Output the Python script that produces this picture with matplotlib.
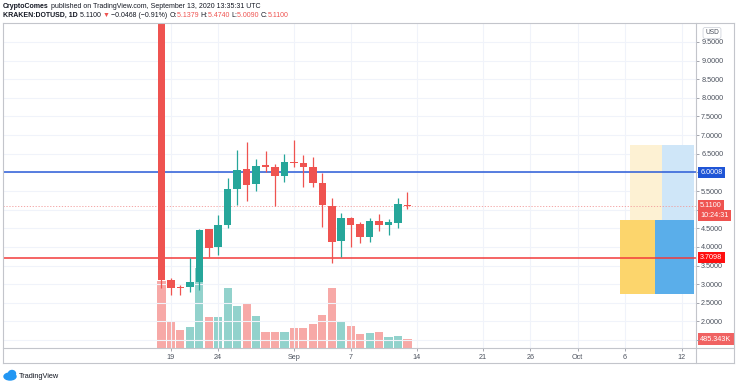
import datetime as dt
import numpy as np
import matplotlib
matplotlib.use('Agg')
import matplotlib.pyplot as plt
import matplotlib.dates as mdates
from matplotlib.lines import Line2D
from matplotlib.patches import Rectangle, Ellipse
from matplotlib.ticker import FuncFormatter

# daily candles, Kraken DOT/USD, Aug 18 - Sep 13 2020
dates = [dt.date(2020, 8, 18) + dt.timedelta(days=i) for i in range(27)]
opens = [11.00, 3.11, 2.93, 2.92, 3.07, 4.47, 4.01, 4.59, 5.55, 6.08, 5.69, 6.20, 6.15, 5.90,
         6.29, 6.26, 6.15, 5.71, 5.10, 4.16, 4.77, 4.61, 4.26, 4.70, 4.59, 4.65, 5.1379]
highs = [11.00, 3.17, 2.98, 3.70, 4.48, 4.48, 4.86, 5.84, 6.60, 6.81, 6.35, 6.57, 6.22, 6.48,
         6.87, 6.47, 6.40, 5.99, 5.30, 4.90, 4.81, 4.67, 4.78, 4.88, 4.74, 5.30, 5.4740]
lows = [2.90, 2.71, 2.71, 2.80, 2.84, 3.74, 3.78, 4.50, 5.12, 5.23, 5.51, 6.02, 5.10, 5.75,
        6.15, 5.60, 5.60, 4.53, 3.56, 3.74, 4.00, 4.10, 4.12, 4.43, 4.32, 4.50, 5.0090]
closes = [3.11, 2.91, 2.89, 3.06, 4.45, 3.96, 4.59, 5.55, 6.06, 5.66, 6.17, 6.15, 5.90, 6.29,
          6.24, 6.14, 5.72, 5.12, 4.12, 4.78, 4.59, 4.26, 4.70, 4.58, 4.66, 5.14, 5.1100]
volumes_k = [3497, 1409, 940, 1096, 4176, 1618, 1618, 3132, 2192, 2297, 1670, 835, 851, 835,
             1044, 1044, 1253, 1723, 3132, 1409, 1148, 746, 799, 835, 574, 626, 485.343]

resistance = 6.0008
support = 3.7098
last_price = 5.11
last_volume = 485.343

# position tool drawn on the right
zone_start = [dt.datetime(2020, 10, 6, 12), dt.datetime(2020, 10, 9, 23),
              dt.datetime(2020, 10, 5, 10), dt.datetime(2020, 10, 9, 5)]
zone_end = [dt.datetime(2020, 10, 9, 23), dt.datetime(2020, 10, 13, 7),
            dt.datetime(2020, 10, 9, 5), dt.datetime(2020, 10, 13, 7)]
zone_low = [4.72, 4.72, 2.73, 2.73]
zone_high = [6.73, 6.73, 4.72, 4.72]
zone_color = ['#fdf1d3', '#cfe6f8', '#fcd56c', '#5aaeea']

tick_dates = [dt.date(2020, 8, 19), dt.date(2020, 8, 24), dt.date(2020, 9, 1), dt.date(2020, 9, 7),
              dt.date(2020, 9, 14), dt.date(2020, 9, 21), dt.date(2020, 9, 26), dt.date(2020, 10, 1),
              dt.date(2020, 10, 6), dt.date(2020, 10, 12)]
tick_labels = ['19', '24', 'Sep', '7', '14', '21', '26', 'Oct', '6', '12']

UP = '#26a69a'
DOWN = '#ef5350'
TXT = '#4c525e'
plt.rcParams['font.family'] = ['Liberation Sans', 'DejaVu Sans']

W, H = 736, 384
fig = plt.figure(figsize=(W / 100, H / 100), dpi=100)
ax = fig.add_axes([3 / W, 1 - 348.3 / H, 693 / W, 325 / H])
axv = ax.twinx()

x = mdates.date2num(dates)
o = np.array(opens)
c = np.array(closes)
up = c >= o
ccol = [UP if u else DOWN for u in up]
vcol = ['#92d2cc' if u else '#f7a9a7' for u in up]

# volume
axv.bar(x, volumes_k, width=0.86, color=vcol, zorder=1)
axv.set_ylim(0, 16965)
axv.set_yticks([])
for s in axv.spines.values():
    s.set_visible(False)

ax.set_zorder(axv.get_zorder() + 1)
ax.patch.set_visible(False)

# candles
ax.vlines(x, lows, highs, colors=ccol, lw=0.9, zorder=4)
ax.bar(x, np.maximum(np.abs(c - o), 0.025), bottom=np.minimum(o, c), width=0.8,
       color=ccol, zorder=5)

for s0, s1, lo, hi, col in zip(zone_start, zone_end, zone_low, zone_high, zone_color):
    x0, x1 = mdates.date2num(s0), mdates.date2num(s1)
    ax.add_patch(Rectangle((x0, lo), x1 - x0, hi - lo, facecolor=col, edgecolor='none', zorder=1))

ax.axhline(resistance, color='#2a5bd7', lw=1.1, zorder=3)
ax.axhline(support, color='#f23b3b', lw=1.1, zorder=3)
ax.axhline(last_price, color='#f29a9a', lw=0.6, ls=(0, (1.5, 2)), zorder=3)

ax.set_ylim(1.28, 10.0)
ax.set_xlim(mdates.date2num(dt.datetime(2020, 8, 1, 6)), mdates.date2num(dt.datetime(2020, 10, 13, 12)))

ax.set_xticks(mdates.date2num(tick_dates))
ax.set_xticklabels(tick_labels)
ax.set_yticks(np.arange(1.5, 10.0, 0.5))
hidden = {1.5, 5.0, 6.0}
ax.yaxis.set_major_formatter(FuncFormatter(lambda v, p: '' if round(v, 2) in hidden else '%.4f' % v))
ax.yaxis.tick_right()
ax.grid(True, color='#f0f3fa', lw=0.8, zorder=0)
ax.set_axisbelow(True)
ax.tick_params(axis='x', length=2, width=0.6, color='#9598a1', labelsize=5.2, labelcolor=TXT, pad=1.8)
ax.tick_params(axis='y', length=2.5, width=0.6, color='#9598a1', labelsize=5.2, labelcolor=TXT, pad=1.2)
for s in ax.spines.values():
    s.set_visible(False)

# price-scale labels
def price_tag(axis, yv, text, bg, dy=0):
    axis.annotate(text, xy=(1.0, yv), xycoords=axis.get_yaxis_transform(), xytext=(3.0, dy),
                  textcoords='offset points', va='center', ha='left', fontsize=5.2, color='white',
                  bbox=dict(boxstyle='square,pad=0.3', facecolor=bg, edgecolor='none'),
                  annotation_clip=False, zorder=10)

price_tag(ax, resistance, '6.0008', '#1f55d6')
price_tag(ax, last_price, '5.1100', '#ef5350')
price_tag(ax, last_price, '10:24:31', '#ef5350', dy=-7.4)
price_tag(ax, support, '3.7098', '#ff1010')
price_tag(axv, last_volume, '485.343K', '#f06262')

fig.text(712 / W, 1 - 33 / H, 'USD', fontsize=4.8, color=TXT, ha='center', va='center',
         bbox=dict(boxstyle='round,pad=0.3', facecolor='white', edgecolor='#d1d4dc', lw=0.6))

# frame
def fline(x0, y0, x1, y1):
    fig.add_artist(Line2D([x0 / W, x1 / W], [1 - y0 / H, 1 - y1 / H], color='#c3c5cb', lw=0.8))

fline(3, 23.3, 734, 23.3)
fline(3, 348.3, 734, 348.3)
fline(3, 363.3, 734, 363.3)
fline(3, 23.3, 3, 363.3)
fline(734, 23.3, 734, 363.3)
fline(696, 23.3, 696, 363.3)

# header
r = fig.canvas.get_renderer()
def chain(parts, x0, y0, size):
    xx = x0
    for s, col, wt in parts:
        t = fig.text(xx / W, 1 - y0 / H, s, color=col, weight=wt, fontsize=size, va='center', ha='left')
        xx = t.get_window_extent(r).x1

DARK = '#131722'
chain([('CryptoComes', DARK, 'bold'),
       (' published on TradingView.com, September 13, 2020 13:35:31 UTC', DARK, 'normal')], 3, 6, 5.0)
chain([('KRAKEN:DOTUSD, 1D ', DARK, 'bold'), ('5.1100 ', DARK, 'normal'), ('▼', DOWN, 'normal'),
       (' \u22120.0468 (\u22120.91%) ', DARK, 'normal'),
       ('O:', DARK, 'normal'), ('5.1379 ', DOWN, 'normal'),
       ('H:', DARK, 'normal'), ('5.4740 ', DOWN, 'normal'),
       ('L:', DARK, 'normal'), ('5.0090 ', DOWN, 'normal'),
       ('C:', DARK, 'normal'), ('5.1100', DOWN, 'normal')], 3, 15.7, 5.0)

# TradingView logo
fig.add_artist(Ellipse((10 / W, 1 - 376.5 / H), 12 / W, 7 / H, color='#2196f3'))
fig.add_artist(Ellipse((12 / W, 1 - 373.5 / H), 7 / W, 6 / H, color='#2196f3'))
fig.text(19 / W, 1 - 376 / H, 'TradingView', fontsize=5.3, color=DARK, va='center', ha='left')

fig.savefig('out.png', dpi=100)
